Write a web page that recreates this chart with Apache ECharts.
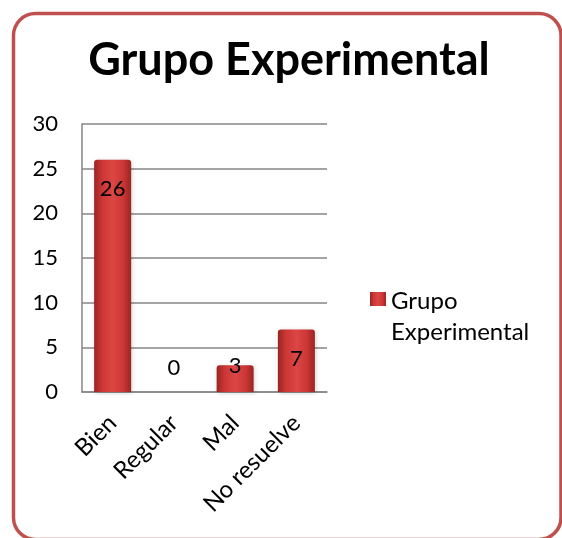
<!DOCTYPE html>
<html>
<head>
<meta charset="utf-8">
<script src="https://cdn.jsdelivr.net/npm/echarts@6/dist/echarts.min.js"></script>
<style>
  html, body { margin: 0; padding: 0; background: #ffffff; }
  #chart { width: 562px; height: 538px; }
</style>
</head>
<body>
<div id="chart"></div>
<script>
// Categories and counts for the experimental group
const categories = ['Bien', 'Regular', 'Mal', 'No resuelve'];
const values = [26, 0, 3, 7];
const seriesName = 'Grupo Experimental';
const yTicks = [0, 5, 10, 15, 20, 25, 30];

const FONT = 'Lato, "Open Sans", sans-serif';

const barFill = {
  type: 'linear', x: 0, y: 0, x2: 1, y2: 0,
  colorStops: [
    { offset: 0, color: '#9a2422' },
    { offset: 0.22, color: '#cc3735' },
    { offset: 0.5, color: '#dc4644' },
    { offset: 0.78, color: '#cc3735' },
    { offset: 1, color: '#9a2422' }
  ]
};

// Label placement: inside the top of tall bars, just above short ones
function labelFor(v) {
  if (v >= 5) return { position: 'insideTop', distance: 18 };
  if (v > 0) return { position: 'insideTop', distance: -10 };
  return { position: 'top', distance: 13 };
}

const chart = echarts.init(document.getElementById('chart'));
chart.setOption({
  backgroundColor: '#ffffff',
  animation: false,
  title: {
    text: seriesName,
    left: 289,
    top: 38,
    textAlign: 'center',
    padding: 0,
    textStyle: { fontFamily: FONT, fontWeight: 'bold', fontSize: 45, color: '#000' }
  },
  graphic: [{
    type: 'rect',
    silent: true,
    shape: { x: 13.5, y: 13.5, width: 547.5, height: 526, r: 22 },
    style: { fill: null, stroke: '#c0504d', lineWidth: 3.5 }
  }],
  legend: {
    left: 370,
    top: 286,
    padding: 0,
    data: [seriesName],
    itemWidth: 16,
    itemHeight: 50,
    itemGap: 6,
    icon: 'path://M0,0L16,0L16,14L0,14Z M0,50L0,50',
    formatter: () => 'Grupo\nExperimental',
    textStyle: { fontFamily: FONT, fontSize: 24, color: '#000', lineHeight: 31 }
  },
  grid: { left: 82, right: 235, top: 124, bottom: 146 },
  xAxis: {
    type: 'category',
    data: categories,
    axisLine: { lineStyle: { color: '#868686', width: 1.5 } },
    axisTick: { show: false },
    axisLabel: { rotate: 45, margin: 27, fontFamily: FONT, fontSize: 24, color: '#000' }
  },
  yAxis: {
    type: 'value',
    min: yTicks[0],
    max: yTicks[yTicks.length - 1],
    interval: 5,
    axisLine: { show: true, lineStyle: { color: '#868686', width: 1.5 } },
    axisTick: { show: false },
    splitLine: { lineStyle: { color: '#868686', width: 1.5 } },
    axisLabel: { margin: 24, fontFamily: FONT, fontSize: 22, color: '#000' }
  },
  series: [{
    name: seriesName,
    type: 'bar',
    barWidth: 37,
    itemStyle: {
      color: barFill,
      borderRadius: [3, 3, 0, 0],
      shadowColor: 'rgba(0,0,0,0.18)',
      shadowBlur: 4,
      shadowOffsetX: 1,
      shadowOffsetY: 1
    },
    label: { show: true, fontFamily: FONT, fontSize: 22, color: '#000' },
    data: values.map(v => ({ value: v, label: labelFor(v) }))
  }]
});
</script>
</body>
</html>
